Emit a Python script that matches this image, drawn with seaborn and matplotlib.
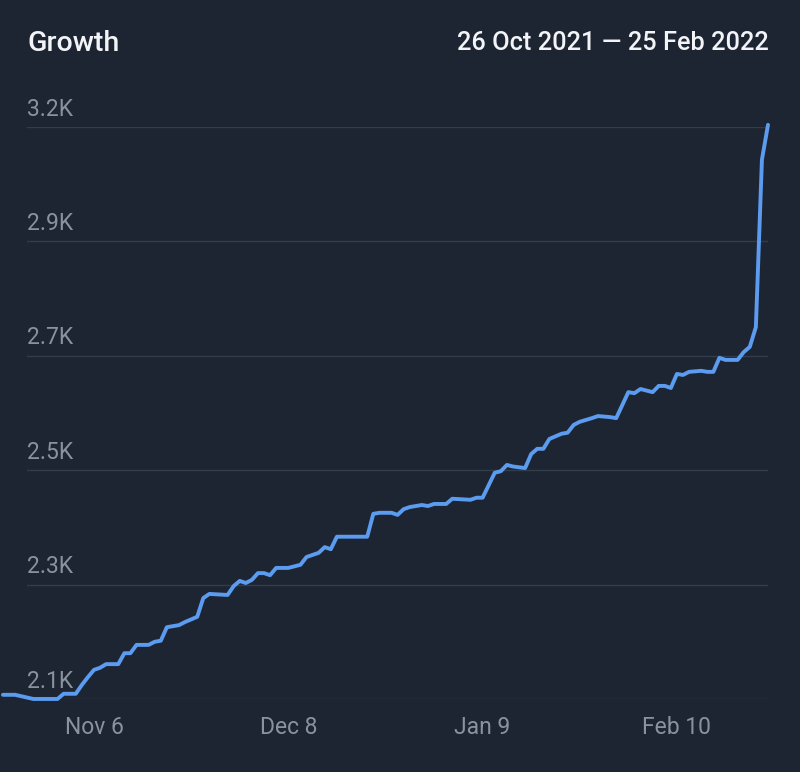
import numpy as np
import pandas as pd
import matplotlib
matplotlib.use("Agg")
import matplotlib.pyplot as plt
from matplotlib.transforms import ScaledTranslation
import seaborn as sns

sns.set_theme(style="dark")
plt.rcParams['font.family'] = ['Roboto', 'DejaVu Sans']

# follower count (days after 26 Oct 2021)
start = pd.Timestamp('2021-10-26')
end = pd.Timestamp('2022-02-25')
day_offset = [-4, -2, 1, 5, 6, 8, 9, 10, 11, 12,
              13, 15, 16, 17, 18, 20, 21, 22, 23, 25,
              26, 28, 29, 30, 33, 34, 35, 36, 37, 38,
              39, 40, 41, 43, 45, 46, 48, 49, 50, 51,
              56, 57, 58, 60, 61, 62, 63, 65, 66, 67,
              69, 70, 73, 74, 75, 77, 78, 79, 80, 82,
              83, 84, 85, 86, 88, 89, 90, 91, 93, 94,
              96, 97, 99, 100, 101, 103, 104, 105, 106, 107,
              108, 109, 111, 112, 113, 114, 115, 117, 118, 119,
              120, 121, 122]
followers = [2108, 2108, 2100, 2100, 2110, 2110, 2127, 2142, 2156, 2160,
             2167, 2167, 2188, 2188, 2204, 2204, 2210, 2212, 2238, 2242,
             2248, 2258, 2294, 2302, 2300, 2317, 2327, 2323, 2329, 2342,
             2342, 2338, 2352, 2352, 2358, 2373, 2381, 2392, 2388, 2412,
             2412, 2456, 2458, 2458, 2454, 2465, 2469, 2473, 2471, 2475,
             2475, 2485, 2483, 2487, 2487, 2535, 2538, 2550, 2547, 2544,
             2571, 2581, 2581, 2600, 2610, 2612, 2627, 2633, 2640, 2644,
             2642, 2640, 2690, 2688, 2696, 2690, 2702, 2702, 2698, 2725,
             2723, 2729, 2731, 2729, 2729, 2756, 2752, 2752, 2767, 2777,
             2815, 3137, 3204]

y_ticks = [2100, 2320, 2540, 2760, 2980, 3200]
y_labels = ['2.1K', '2.3K', '2.5K', '2.7K', '2.9K', '3.2K']
x_ticks = ['2021-11-06', '2021-12-08', '2022-01-09', '2022-02-10']
x_labels = ['Nov 6', 'Dec 8', 'Jan 9', 'Feb 10']

bg = '#1e2532'
df = pd.DataFrame({'date': start + pd.to_timedelta(day_offset, unit='D'),
                   'followers': followers})

fig = plt.figure(figsize=(8, 7.72), dpi=100, facecolor=bg)
ax = fig.add_axes([0.034, 0.0946, 0.926, 0.741])
ax.set_facecolor(bg)

sns.lineplot(data=df, x='date', y='followers', ax=ax, color='#5b9cf0',
             linewidth=2.8, clip_on=False, zorder=3)

ax.set_xlim(start, end)
ax.set_ylim(y_ticks[0], y_ticks[-1])
for sp in ax.spines.values():
    sp.set_visible(False)
for v in y_ticks:
    ax.axhline(v, color='#333c4a', linewidth=1, zorder=1)
ax.grid(False)

ax.set_xticks(pd.to_datetime(x_ticks), x_labels)
ax.set_yticks(y_ticks, y_labels)
ax.tick_params(axis='x', length=0, pad=12, labelsize=16.5, labelcolor='#8a929e')
ax.tick_params(axis='y', length=0, pad=0, labelsize=16.5, labelcolor='#8a929e')
for lab in ax.get_yticklabels():
    lab.set_horizontalalignment('left')
    lab.set_verticalalignment('bottom')
    lab.set_transform(lab.get_transform() + ScaledTranslation(0, 4.5 / 72, fig.dpi_scale_trans))
ax.set_xlabel('')
ax.set_ylabel('')

fig.text(0.034, 0.934, 'Growth', color='#f2f4f7', fontsize=20.5, fontweight='medium',
         ha='left', va='baseline')
fig.text(0.961, 0.935, '26 Oct 2021 \u2014 25 Feb 2022', color='#f2f4f7', fontsize=18.3,
         fontweight='medium', ha='right', va='baseline')

fig.savefig('out.png', dpi=100, facecolor=bg)
